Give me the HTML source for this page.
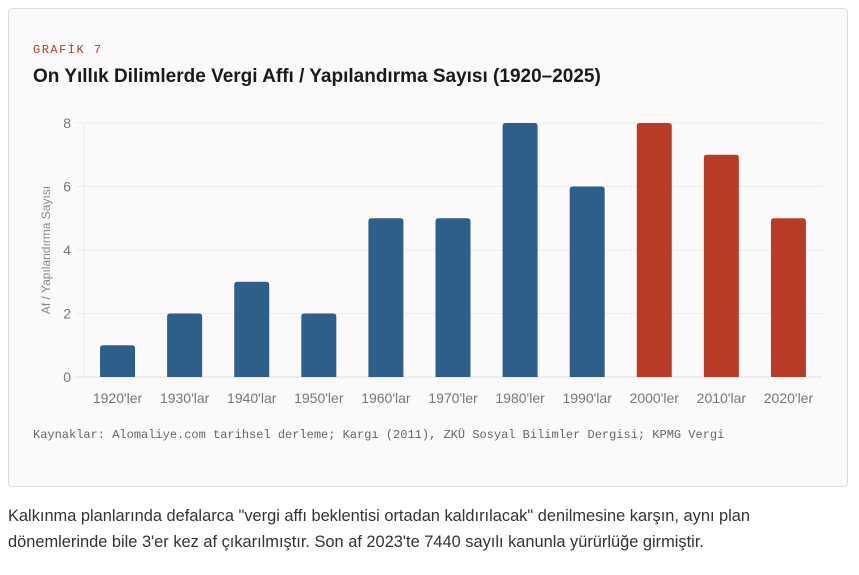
<!DOCTYPE html>
<html><head><meta charset="utf-8"><style>
body{margin:0;width:859px;height:575px;background:#fff;font-family:"Liberation Sans",sans-serif;position:relative;overflow:hidden}
.card{position:absolute;left:8px;top:8px;width:838px;height:477px;background:#fafafa;border:1px solid #dedede;border-radius:4px}
.kicker{position:absolute;left:33px;top:43px;font:12px "Liberation Mono",monospace;letter-spacing:1.5px;color:#b83c28}
.title{position:absolute;left:33px;top:66px;font-weight:bold;font-size:19px;color:#1a1a1a}
.src{position:absolute;left:33px;top:428px;font:12px "Liberation Mono",monospace;color:#666}
.note{position:absolute;left:8px;top:503px;font-size:16.4px;line-height:26px;color:#333;width:790px}
svg{position:absolute;left:0;top:0}
</style></head><body>
<div class="card"></div>
<div class="kicker">GRAFİK 7</div>
<div class="title">On Yıllık Dilimlerde Vergi Affı / Yapılandırma Sayısı (1920–2025)</div>
<svg id="c" width="859" height="575"></svg>
<div class="src">Kaynaklar: Alomaliye.com tarihsel derleme; Kargı (2011), ZKÜ Sosyal Bilimler Dergisi; KPMG Vergi</div>
<div class="note">Kalkınma planlarında defalarca "vergi affı beklentisi ortadan kaldırılacak" denilmesine karşın, aynı plan dönemlerinde bile 3'er kez af çıkarılmıştır. Son af 2023'te 7440 sayılı kanunla yürürlüğe girmiştir.</div>
<script>
const categories=["1920'ler","1930'lar","1940'lar","1950'ler","1960'lar","1970'ler","1980'ler","1990'lar","2000'ler","2010'lar","2020'ler"];
const counts=[1,2,3,2,5,5,8,6,8,7,5];
const highlight=[0,0,0,0,0,0,0,0,1,1,1];
const yTicks=[0,2,4,6,8];
const svg=document.getElementById('c');const NS='http://www.w3.org/2000/svg';
const x0=84,x1=822,y0=377,y1=123,yMax=8;
const step=(x1-x0)/categories.length;
const ys=v=>y0-(v/yMax)*(y0-y1);
const xs=i=>x0+step*(i+0.5);
function mk(t,a){const e=document.createElementNS(NS,t);for(const k in a)e.setAttribute(k,a[k]);svg.appendChild(e);return e;}
yTicks.forEach(t=>{
const g=mk('line',{x1:x0-8,x2:x1,y1:ys(t),y2:ys(t),stroke:t===0?'#ddd':'#ececec','stroke-width':1});


const l=mk('text',{x:71,y:ys(t)+5,'text-anchor':'end','font-size':14,fill:'#777','font-family':'Liberation Sans'});
l.textContent=t;


});
const ax=mk('line',{x1:x0,x2:x0,y1:y1,y2:y0,stroke:'#ececec'});


const yt=mk('text',{x:0,y:0,transform:'translate(50,250) rotate(-90)','text-anchor':'middle','font-size':12,fill:'#888','font-family':'Liberation Sans'});
yt.textContent='Af / Yapılandırma Sayısı';


const bw=35,r=3;
counts.forEach((v,i)=>{
const x=xs(i)-bw/2,y=ys(v);
const p=mk('path',{d:`M${x},${y0}V${y+r}Q${x},${y} ${x+r},${y}H${x+bw-r}Q${x+bw},${y} ${x+bw},${y+r}V${y0}Z`,fill:highlight[i]?'#b83c28':'#2e5e8a'});


const t=mk('text',{x:xs(i),y:403,'text-anchor':'middle','font-size':14,fill:'#777','font-family':'Liberation Sans'});
t.textContent=categories[i];


});
</script>
</body></html>
